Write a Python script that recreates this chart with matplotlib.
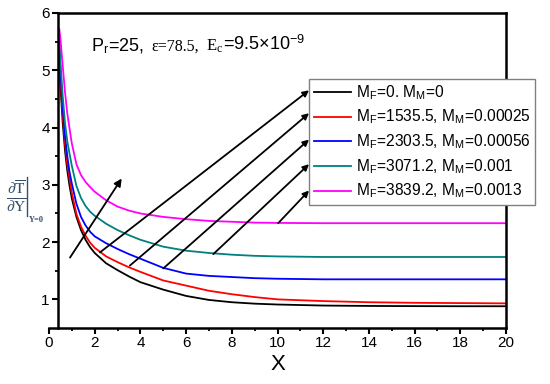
#!/usr/bin/env python3
import matplotlib
matplotlib.use('Agg')
import matplotlib.pyplot as plt
from matplotlib.lines import Line2D
from matplotlib.offsetbox import TextArea, HPacker, AnchoredOffsetbox

x_vals = [0.45, 0.5, 0.6, 0.7, 0.8, 0.9, 1.0, 1.2, 1.4, 1.6, 1.8, 2.0, 2.5, 3, 3.5, 4, 5, 6, 7, 8, 9, 10,
          12, 14, 16, 18, 20]

y_black = [5.25, 4.73, 4.08, 3.60, 3.25, 2.98, 2.76, 2.44, 2.21, 2.04, 1.91, 1.81, 1.63, 1.51, 1.40,
           1.30, 1.17, 1.06, 0.99, 0.95, 0.925, 0.91, 0.892, 0.885, 0.882, 0.88, 0.88]
y_red = [5.35, 4.90, 4.22, 3.72, 3.36, 3.10, 2.86, 2.49, 2.27, 2.11, 1.99, 1.90, 1.75, 1.65, 1.56,
         1.48, 1.33, 1.24, 1.15, 1.09, 1.04, 1.00, 0.97, 0.95, 0.94, 0.935, 0.93]
y_blue = [5.45, 5.00, 4.35, 3.85, 3.50, 3.22, 3.02, 2.67, 2.44, 2.29, 2.18, 2.10, 1.98, 1.88, 1.79,
          1.71, 1.55, 1.45, 1.41, 1.39, 1.37, 1.36, 1.35, 1.35, 1.35, 1.35, 1.35]
y_teal = [5.55, 5.15, 4.55, 4.08, 3.76, 3.54, 3.33, 2.98, 2.77, 2.63, 2.53, 2.46, 2.32, 2.21, 2.12,
          2.04, 1.92, 1.85, 1.81, 1.78, 1.76, 1.75, 1.74, 1.74, 1.74, 1.74, 1.74]
y_magenta = [5.72, 5.55, 5.08, 4.62, 4.25, 3.98, 3.72, 3.36, 3.17, 3.05, 2.96, 2.88, 2.73, 2.62, 2.55,
             2.50, 2.44, 2.40, 2.37, 2.355, 2.34, 2.335, 2.33, 2.33, 2.33, 2.33, 2.33]

series = [y_black, y_red, y_blue, y_teal, y_magenta]
colors = ['black', '#ff0000', '#0000ff', '#008080', '#ff00ff']
labels = [r'M$_\mathregular{F}$=0. M$_\mathregular{M}$=0',
          r'M$_\mathregular{F}$=1535.5, M$_\mathregular{M}$=0.00025',
          r'M$_\mathregular{F}$=2303.5, M$_\mathregular{M}$=0.00056',
          r'M$_\mathregular{F}$=3071.2, M$_\mathregular{M}$=0.001',
          r'M$_\mathregular{F}$=3839.2, M$_\mathregular{M}$=0.0013']

# arrows: start on each curve, end at the legend entry
arrow_starts = [(2.23, 1.82), (3.54, 1.59), (5.00, 1.54), (7.19, 1.79), (10.03, 2.33)]
arrow_ends = [(11.38, 4.65), (11.38, 4.25), (11.38, 3.79), (11.38, 3.36), (11.38, 2.90)]
big_arrow = [(0.92, 1.73), (3.18, 3.11)]

x_ticks = list(range(0, 21, 2))
y_ticks = [1, 2, 3, 4, 5, 6]

plt.rcParams['font.family'] = ['Liberation Sans', 'DejaVu Sans']
plt.rcParams['mathtext.fontset'] = 'stix'

W, H = 550, 384


def main():
    fig = plt.figure(figsize=(5.5, 3.84), dpi=100)
    ax = fig.add_axes([49 / W, 1 - 328 / H, 457 / W, 315 / H])

    handles = []
    for y, c, lab in zip(series, colors, labels):
        h, = ax.plot(x_vals, y, color=c, lw=1.3, label=lab)
        handles.append(h)

    ax.set_xlim(0, 20)
    ax.set_ylim(0.5, 6)
    ax.set_xticks(x_ticks)
    ax.set_yticks(y_ticks)
    ax.set_xticks(range(1, 21, 2), minor=True)
    ax.set_yticks([1.5, 2.5, 3.5, 4.5, 5.5], minor=True)

    # Origin style frame: left axis sits where the data start
    ax.spines['left'].set_position(('data', 0.4))
    ax.spines['top'].set_bounds(0.4, 20)
    for s in ax.spines.values():
        s.set_linewidth(1.8)

    ax.tick_params(which='major', direction='out', length=4, width=1.5, labelsize=11, pad=2)
    ax.tick_params(which='minor', direction='out', length=2.5, width=1.3)

    ax.set_xlabel('X', fontsize=16, labelpad=3)

    # y label: dT/dY |_{Y=0}, built from pieces
    ylab_color = '#34506e'
    fig.text(16 / W, 1 - 196 / H, r'$\frac{\partial\overline{\mathrm{T}}}{\partial\mathrm{Y}}$',
             fontsize=16, color=ylab_color, ha='center', va='center')
    fig.add_artist(Line2D([27 / W, 27 / W], [1 - 177 / H, 1 - 216 / H], transform=fig.transFigure,
                          color=ylab_color, lw=1.0))
    fig.text(29 / W, 1 - 220 / H, 'Y=0', fontsize=6, family='Liberation Serif', fontweight='bold',
             color=ylab_color, ha='left', va='center')

    # parameter line, mixed sans/serif like the original
    p_part = TextArea(r'P$_\mathregular{r}$=25,', textprops=dict(fontsize=13, family='Liberation Sans'))
    eps_part = TextArea('ε=78.5,', textprops=dict(fontsize=11.5, family='Liberation Serif'))
    e_part = TextArea(r'E$_\mathregular{c}$', textprops=dict(fontsize=12, family='Liberation Serif'))
    val_part = TextArea(r'=9.5×10$^\mathregular{-9}$', textprops=dict(fontsize=13, family='Liberation Sans'))
    ec_box = HPacker(children=[e_part, val_part], align='baseline', pad=0, sep=0)
    box = HPacker(children=[p_part, eps_part, ec_box], align='baseline', pad=0, sep=5)
    anchored = AnchoredOffsetbox(loc='upper left', child=box, pad=0, frameon=False,
                                 bbox_to_anchor=(91 / W, 1 - 35 / H),
                                 bbox_transform=fig.transFigure, borderpad=0)
    ax.add_artist(anchored)

    leg = ax.legend(handles=handles, loc='upper left', bbox_to_anchor=(309 / W, 1 - 79 / H),
                    bbox_transform=fig.transFigure, fontsize=11.2, fancybox=False, framealpha=1,
                    edgecolor='#808080', handlelength=2.4, handletextpad=0.3, labelspacing=0.42,
                    borderpad=0.3, borderaxespad=0)
    leg.get_frame().set_linewidth(1.0)

    for (x0, y0), (x1, y1) in zip(arrow_starts, arrow_ends):
        ax.annotate('', xy=(x1, y1), xytext=(x0, y0),
                    arrowprops=dict(arrowstyle='-|>', color='black', lw=1.3, mutation_scale=9,
                                    shrinkA=0, shrinkB=0))
    ax.annotate('', xy=big_arrow[1], xytext=big_arrow[0],
                arrowprops=dict(arrowstyle='-|>', color='black', lw=1.3, mutation_scale=11,
                                shrinkA=0, shrinkB=0))

    fig.savefig('out.png', dpi=100)


if __name__ == '__main__':
    main()
